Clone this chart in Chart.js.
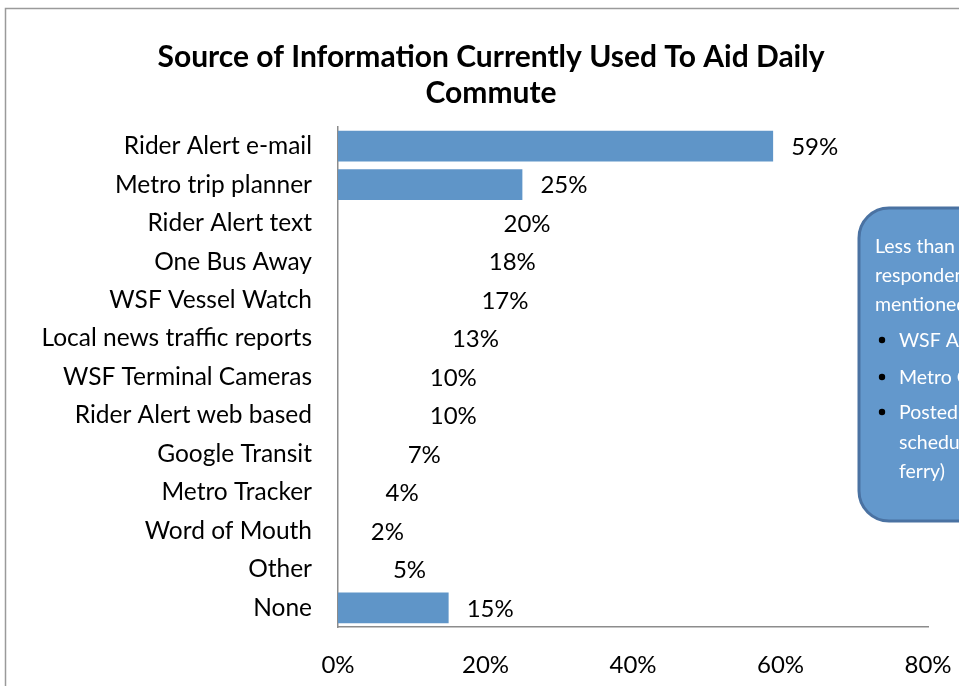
<!DOCTYPE html>
<html>
<head>
<meta charset="utf-8">
<script src="https://cdn.jsdelivr.net/npm/chart.js@4"></script>
<style>
  html, body { margin: 0; padding: 0; background: #fff; overflow: hidden; }
  #wrap { width: 982px; height: 686px; }
</style>
</head>
<body>
<div id="wrap"><canvas id="chart" width="982" height="686"></canvas></div>
<script>
// data
var categories = [
  "Rider Alert e-mail", "Metro trip planner", "Rider Alert text", "One Bus Away",
  "WSF Vessel Watch", "Local news traffic reports", "WSF Terminal Cameras",
  "Rider Alert web based", "Google Transit", "Metro Tracker", "Word of Mouth",
  "Other", "None"
];
var values = [59, 25, 20, 18, 17, 13, 10, 10, 7, 4, 2, 5, 15];
// only these bars are filled in the original, the rest are blank
var shown = [true, true, false, false, false, false, false, false, false, false, false, false, true];
var tickValues = [0, 20, 40, 60, 80];

var titleLines = ["Source of Information Currently Used To Aid Daily", "Commute"];
var noteHead = ["Less than 1% of", "respondents", "mentioned:"];
var noteBullets = [["WSF App"], ["Metro Online"], ["Posted", "schedule (bus,", "ferry)"]];

var barBlue = "#5f95c8";
var fontFam = "Lato, 'Open Sans', sans-serif";

// frame, title and callout box
const decor = {
  id: "decor",
  beforeDraw(chart) {
    var ctx = chart.ctx;
    ctx.save();
    ctx.strokeStyle = "#9a9a9a";
    ctx.lineWidth = 1.5;
    ctx.strokeRect(5.5, 8.5, 2000, 2000);
    ctx.restore();
  },
  afterDraw(chart) {
    var ctx = chart.ctx;
    ctx.save();
    ctx.fillStyle = "#000";
    ctx.font = "bold 30px " + fontFam;
    ctx.textAlign = "center";
    ctx.textBaseline = "middle";
    titleLines.forEach(function (t, i) {
      ctx.fillText(t, 491, 57 + i * 36);
    });

    // rounded note box
    ctx.textAlign = "left";
    ctx.beginPath();
    ctx.roundRect(859, 208, 180, 313, 30);
    ctx.fillStyle = "#6398cc";
    ctx.fill();
    ctx.lineWidth = 3;
    ctx.strokeStyle = "#4a72a2";
    ctx.stroke();

    ctx.fillStyle = "#fff";
    ctx.font = "19.5px " + fontFam;
    var y = 247;
    noteHead.forEach(function (t) {
      ctx.fillText(t, 875, y);
      y += 29;
    });
    var by = [341, 378, 413];
    noteBullets.forEach(function (lines, i) {
      ctx.fillStyle = "#000";
      ctx.beginPath();
      ctx.arc(882, by[i] - 1, 3.2, 0, Math.PI * 2);
      ctx.fill();
      ctx.fillStyle = "#fff";
      lines.forEach(function (t, j) {
        ctx.fillText(t, 899, by[i] + j * 29.5);
      });
    });
    ctx.restore();
  }
};

// percentage labels after each bar
const barLabels = {
  id: "barLabels",
  afterDatasetsDraw(chart) {
    var ctx = chart.ctx;
    var meta = chart.getDatasetMeta(0);
    ctx.save();
    ctx.fillStyle = "#000";
    ctx.font = "24px " + fontFam;
    ctx.textBaseline = "middle";
    ctx.textAlign = "left";
    meta.data.forEach(function (bar, i) {
      ctx.fillText(values[i] + "%", bar.x + 18, bar.y + 1);
    });
    ctx.restore();
  }
};

new Chart(document.getElementById("chart"), {
  type: "bar",
  data: {
    labels: categories,
    datasets: [{
      data: values,
      backgroundColor: shown.map(function (s) { return s ? barBlue : "rgba(0,0,0,0)"; }),
      barPercentage: 0.8,
      categoryPercentage: 1.0
    }]
  },
  options: {
    indexAxis: "y",
    responsive: false,
    animation: false,
    layout: { padding: { right: 54, top: 127 } },
    plugins: {
      legend: { display: false },
      tooltip: { enabled: false },
      title: { display: false }
    },
    scales: {
      x: {
        min: 0,
        max: 80,
        afterBuildTicks: function (scale) {
          scale.ticks = tickValues.map(function (v) { return { value: v }; });
        },
        afterFit: function (scale) { scale.height = 59; },
        grid: { display: false, drawTicks: false },
        border: { color: "#8c8c8c", width: 1.5 },
        ticks: {
          padding: 24,
          color: "#000",
          font: { family: fontFam, size: 24 },
          callback: function (v) { return v + "%"; }
        }
      },
      y: {
        afterFit: function (scale) { scale.width = 338; },
        grid: { display: false, drawTicks: false },
        border: { color: "#8c8c8c", width: 1.5 },
        ticks: {
          padding: 26,
          color: "#000",
          font: { family: fontFam, size: 24.5 }
        }
      }
    }
  },
  plugins: [decor, barLabels]
});
</script>
</body>
</html>
